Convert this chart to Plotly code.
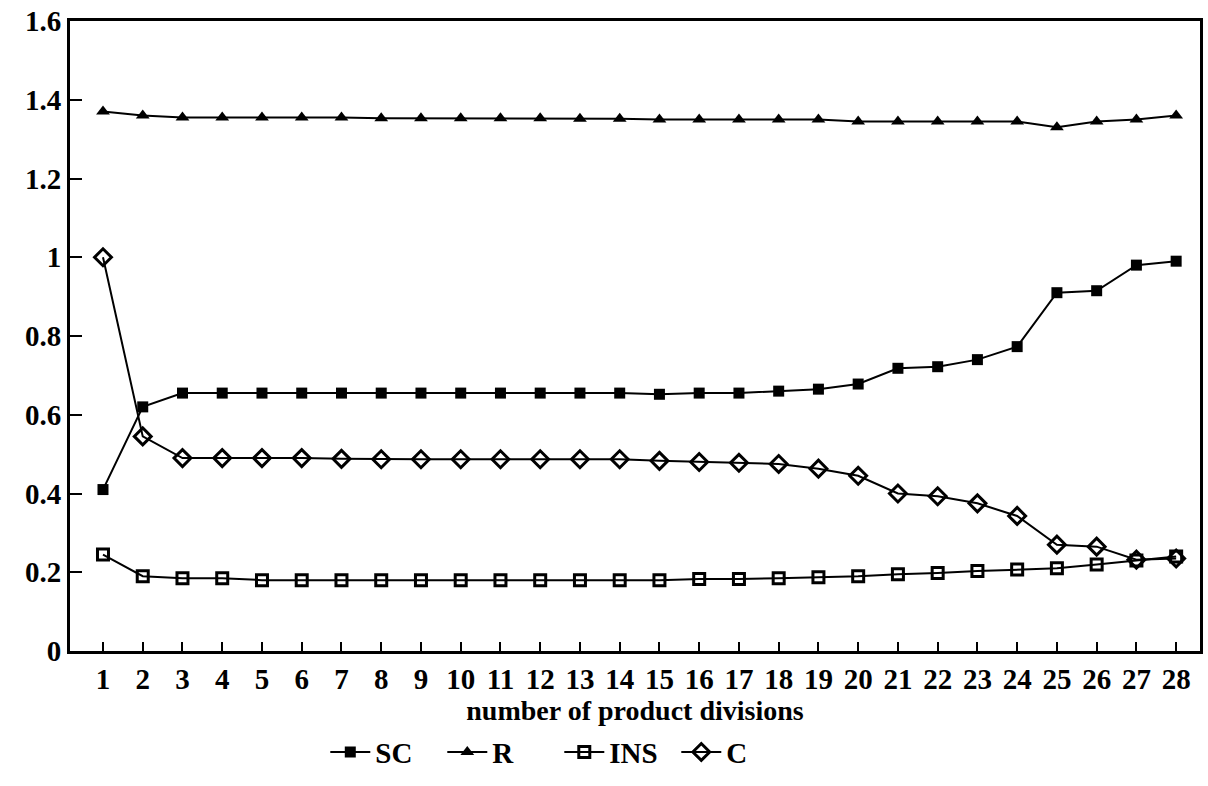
import plotly.graph_objects as go

x = list(range(1, 29))
SC = [0.41, 0.62, 0.655, 0.655, 0.655, 0.655, 0.655, 0.655, 0.655, 0.655, 0.655, 0.655, 0.655, 0.655,
      0.652, 0.655, 0.655, 0.66, 0.665, 0.678, 0.718, 0.722, 0.74, 0.773, 0.91, 0.915, 0.98, 0.99]
R = [1.37, 1.36, 1.355, 1.355, 1.355, 1.355, 1.355, 1.353, 1.353, 1.353, 1.353, 1.353, 1.352, 1.352,
     1.35, 1.35, 1.35, 1.35, 1.35, 1.345, 1.345, 1.345, 1.345, 1.345, 1.33, 1.345, 1.35, 1.36]
INS = [0.245, 0.19, 0.185, 0.185, 0.18, 0.18, 0.18, 0.18, 0.18, 0.18, 0.18, 0.18, 0.18, 0.18,
       0.18, 0.183, 0.183, 0.185, 0.187, 0.19, 0.195, 0.198, 0.203, 0.207, 0.21, 0.22, 0.23, 0.24]
C = [1.0, 0.545, 0.49, 0.49, 0.49, 0.49, 0.488, 0.487, 0.487, 0.487, 0.487, 0.487, 0.487, 0.487,
     0.483, 0.48, 0.478, 0.475, 0.463, 0.445, 0.4, 0.393, 0.375, 0.343, 0.27, 0.265, 0.232, 0.235]

series = [
    ("SC", SC, dict(symbol="square", size=11, color="black")),
    ("R", R, dict(symbol="triangle-up", size=12, color="black")),
    ("INS", INS, dict(symbol="square-open", size=11, color="black", line=dict(width=3, color="black"))),
    ("C", C, dict(symbol="diamond-open", size=13, color="black", line=dict(width=3, color="black"))),
]

fig = go.Figure()
for name, vals, mk in series:
    fig.add_trace(go.Scatter(x=x, y=vals, mode="lines+markers", name=name,
                             line=dict(color="black", width=2), marker=mk))

tickfont = dict(family="Liberation Serif", size=29, color="black", weight="bold")
fig.update_layout(
    width=1208, height=786,
    margin=dict(l=70, r=8, t=21, b=133),
    paper_bgcolor="white", plot_bgcolor="white",
    showlegend=True,
    legend=dict(orientation="h", x=0.433, xanchor="center", y=-0.12, yanchor="top",
                font=dict(family="Liberation Serif", size=29, color="black", weight="bold"),
                itemwidth=40, entrywidth=62, tracegroupgap=0),
    xaxis=dict(range=[0.17, 28.6], tickmode="array", tickvals=x, ticktext=[str(v) for v in x],
               ticks="inside", ticklen=9, tickwidth=2, tickcolor="black",
               showline=True, linecolor="black", linewidth=3, mirror=True,
               showgrid=False, zeroline=False, tickfont=tickfont, automargin=False,
               title=dict(text="number of product divisions", standoff=0,
                          font=dict(family="Liberation Serif", size=28, color="black", weight="bold"))),
    yaxis=dict(range=[0, 1.6], tickmode="array", tickvals=[0, 0.2, 0.4, 0.6, 0.8, 1, 1.2, 1.4, 1.6],
               ticktext=["0", "0.2", "0.4", "0.6", "0.8", "1", "1.2", "1.4", "1.6"],
               ticks="inside", ticklen=12, tickwidth=2, tickcolor="black",
               showline=True, linecolor="black", linewidth=3, mirror=True,
               showgrid=False, zeroline=False, tickfont=tickfont, automargin=False),
)

fig.write_html("out.html", config={"displayModeBar": False},
               post_script="document.body.style.margin='0';document.body.style.padding='0';")
